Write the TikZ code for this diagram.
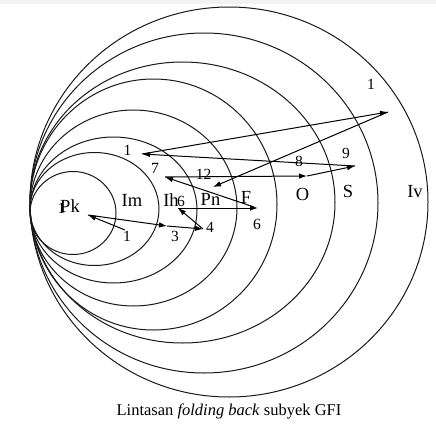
\documentclass[tikz,border=0pt]{standalone}
\usepackage{fontspec}
\setmainfont{Liberation Serif}
\usetikzlibrary{arrows.meta}
\begin{document}
\begin{tikzpicture}[x=1pt,y=-1pt,>={Latex[length=8pt,width=5.5pt]},
	tahap/.style={inner sep=0pt,anchor=base,font=\fontsize{18.5}{18.5}\selectfont},
	nomor/.style={inner sep=0pt,font=\fontsize{15.5}{15.5}\selectfont},
	lintas/.style={->,line width=1pt}]
	\useasboundingbox (0,0) rectangle (436,423);
	\fill[black!5] (0,0) rectangle (436,4);
	% lapisan tahap, semua menyinggung di kiri
	\foreach \rx/\ry/\cy in {43/41.5/213,64.5/56.5/209,83.5/73/210,103.5/98/208,123.5/125.5/204.5,152.5/140.5/202.5,174/170/203,199/195/202}
		\draw[line width=1pt,black!90] ({30+\rx},\cy) ellipse [x radius=\rx pt,y radius=\ry pt];
	% nama tahap
	\node[tahap] (Pk) at (70,212) {Pk};
	\node[tahap] (Pk1) at (61.5,213) {\fontsize{15.5}{15.5}\selectfont 1};
	\node[tahap] (Im) at (132,206) {Im};
	\node[tahap] (Ih) at (171,206) {Ih};
	\node[tahap] (Ih6) at (181,206) {\fontsize{15.5}{15.5}\selectfont 6};
	\node[tahap] (Pn) at (210.5,205) {Pn};
	\node[tahap] (F) at (246,203) {F};
	\node[tahap] (O) at (302.5,200) {O};
	\node[tahap] (S) at (348,197) {S};
	\node[tahap] (Iv) at (415,197) {Iv};
	% titik lintasan
	\coordinate (t1) at (125,230);
	\coordinate (tPk) at (88,215);
	\coordinate (t3) at (167,226);
	\coordinate (t4) at (203,229);
	\coordinate (t5) at (178,208);
	\coordinate (t6) at (258,208);
	\coordinate (t6b) at (254,207);
	\coordinate (t7) at (165,177);
	\coordinate (t8) at (307,176);
	\coordinate (t9) at (355,166);
	\coordinate (t10) at (142,154);
	\coordinate (t11) at (388,112);
	\coordinate (t12) at (213,187);
	\draw[lintas] (t1) -- (tPk);
	\draw[lintas] (tPk) -- (t3);
	\draw[lintas] (t3) -- (t4);
	\draw[lintas] (t4) -- (t5);
	\draw[lintas] (t5) -- (t6);
	\draw[lintas] (t6b) -- (t7);
	\draw[lintas] (t7) -- (t8);
	\draw[lintas] (t8) -- (t9);
	\draw[lintas] (t9) -- (t10);
	\draw[lintas] (t10) -- (t11);
	\draw[lintas] (t11) -- (t12);
	% nomor langkah
	\node[nomor] (n1) at (127,236) {1};
	\node[nomor] (n3) at (175,236) {3};
	\node[nomor] (n4) at (210,227) {4};
	\node[nomor] (n6) at (257,224) {6};
	\node[nomor] (n7) at (155,168) {7};
	\node[nomor] (n12) at (203.5,174) {12};
	\node[nomor] (n8) at (299,161) {8};
	\node[nomor] (n9) at (346,153) {9};
	\node[nomor] (n10) at (127.5,150) {1};
	\node[nomor] (n11) at (371,84) {1};
	% keterangan
	\node[inner sep=0pt,anchor=base,font=\fontsize{16.5}{16.5}\selectfont] (judul) at (229,415) {Lintasan \textit{folding back} subyek GFI};
\end{tikzpicture}
\end{document}
